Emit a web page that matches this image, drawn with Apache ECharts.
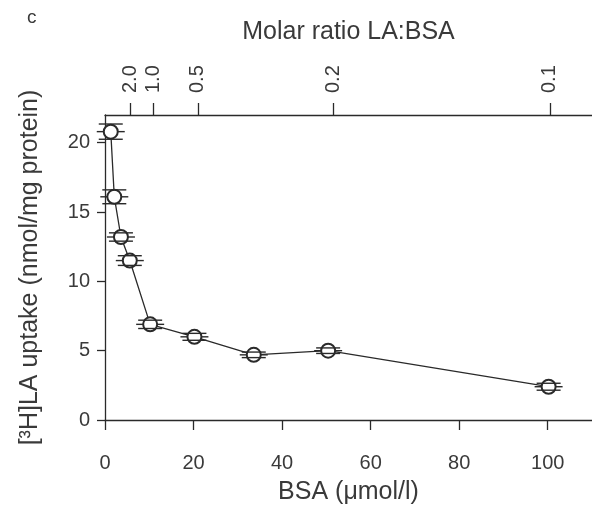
<!DOCTYPE html>
<html>
<head>
<meta charset="utf-8">
<script src="https://cdn.jsdelivr.net/npm/echarts@6/dist/echarts.min.js"></script>
<style>
  html, body { margin: 0; padding: 0; background: #fff; }
  #chart { width: 592px; height: 513px; }
</style>
</head>
<body>
<div id="chart"></div>
<script>
// BSA concentration (umol/l) and [3H]LA uptake (nmol/mg protein)
const bsa = [1.3, 2.1, 3.6, 5.6, 10.2, 20.2, 33.6, 50.4, 100.2];
const uptake = [20.8, 16.1, 13.2, 11.5, 6.9, 6.0, 4.7, 5.0, 2.4];
const uptakeErr = [0.55, 0.5, 0.3, 0.35, 0.3, 0.25, 0.2, 0.2, 0.25];

// axis ticks
const bsaTicks = [0, 20, 40, 60, 80, 100];
const ratioTickBSA = [5.8, 11, 21, 51.5, 100.5];
const ratioLabels = ['2.0', '1.0', '0.5', '0.2', '0.1'];

const ink = '#2a2a2a';
const textInk = '#3a3a3a';
const font = 'Liberation Sans, Arial, sans-serif';

const chart = echarts.init(document.getElementById('chart'));

const points = bsa.map((x, i) => [x, uptake[i], uptakeErr[i]]);

const option = {
  backgroundColor: '#fff',
  animation: false,
  grid: { left: 105, right: 0, top: 115, bottom: 93 },
  graphic: [{
    type: 'text', left: 27, top: 8,
    style: { text: 'c', fill: textInk, font: '19px ' + font }
  }],
  xAxis: [{
    type: 'value', position: 'bottom',
    min: 0, max: 110,
    name: 'BSA (\u03bcmol/l)', nameLocation: 'middle', nameGap: 60,
    nameTextStyle: { color: textInk, fontSize: 25, fontFamily: font },
    axisLine: { show: true, onZero: false, lineStyle: { color: ink, width: 1.3 } },
    axisTick: { show: true, length: 10, customValues: bsaTicks, lineStyle: { color: ink, width: 1.3 } },
    axisLabel: { customValues: bsaTicks, margin: 33, color: textInk, fontSize: 20, fontFamily: font },
    splitLine: { show: false }
  }, {
    type: 'value', position: 'top',
    min: 0, max: 110,
    name: 'Molar ratio LA:BSA', nameLocation: 'middle', nameGap: 70,
    nameTextStyle: { color: textInk, fontSize: 25, fontFamily: font },
    axisLine: { show: true, onZero: false, lineStyle: { color: ink, width: 1.3 } },
    axisTick: { show: true, length: 12, customValues: ratioTickBSA, lineStyle: { color: ink, width: 1.3 } },
    axisLabel: {
      customValues: ratioTickBSA, rotate: -90, margin: 22,
      color: textInk, fontSize: 20, fontFamily: font,
      formatter: v => ratioLabels[ratioTickBSA.indexOf(v)]
    },
    splitLine: { show: false }
  }],
  yAxis: {
    type: 'value', min: 0, max: 22, interval: 5,
    name: '[\u00b3H]LA uptake (nmol/mg protein)', nameLocation: 'middle', nameGap: 62,
    nameTextStyle: { color: textInk, fontSize: 25, fontFamily: font },
    axisLine: { show: true, lineStyle: { color: ink, width: 1.3 } },
    axisTick: { show: true, length: 8, lineStyle: { color: ink, width: 1.3 } },
    axisLabel: { margin: 15, color: textInk, fontSize: 20, fontFamily: font, showMaxLabel: false },
    splitLine: { show: false }
  },
  series: [{
    type: 'line',
    data: points.map(p => [p[0], p[1]]),
    symbol: 'emptyCircle', symbolSize: 14,
    itemStyle: { color: ink, borderWidth: 1.8 },
    lineStyle: { color: ink, width: 1.3 },
    z: 3
  }, {
    type: 'custom',
    data: points,
    z: 4,
    renderItem: (params, api) => {
      const x = api.value(0), y = api.value(1), e = api.value(2);
      const c = api.coord([x, y]);
      const top = api.coord([x, y + e])[1];
      const bot = api.coord([x, y - e])[1];
      const hw = 12;
      const st = { stroke: ink, lineWidth: 1.4 };
      return {
        type: 'group',
        children: [
          { type: 'line', shape: { x1: c[0] - hw, y1: top, x2: c[0] + hw, y2: top }, style: st },
          { type: 'line', shape: { x1: c[0] - hw, y1: bot, x2: c[0] + hw, y2: bot }, style: st },
          { type: 'line', shape: { x1: c[0] - hw - 2, y1: c[1], x2: c[0] - 7, y2: c[1] }, style: st },
          { type: 'line', shape: { x1: c[0] + 7, y1: c[1], x2: c[0] + hw + 2, y2: c[1] }, style: st }
        ]
      };
    }
  }]
};

chart.setOption(option);
</script>
</body>
</html>
